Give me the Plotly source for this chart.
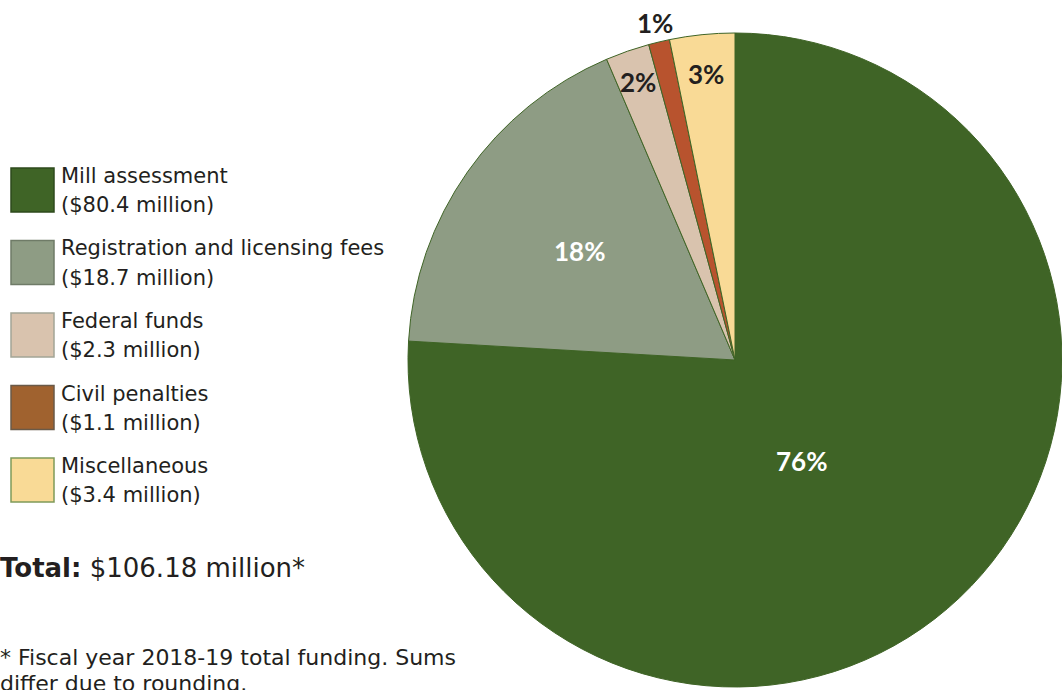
import math
import plotly.graph_objects as go

# ---- data ----
categories = ["Mill assessment", "Registration and licensing fees", "Federal funds",
              "Civil penalties", "Miscellaneous"]
amounts = [80.4, 18.7, 2.3, 1.1, 3.4]  # $ millions
amount_labels = ["($80.4 million)", "($18.7 million)", "($2.3 million)",
                 "($1.1 million)", "($3.4 million)"]
pie_labels = ["76%", "18%", "2%", "1%", "3%"]
total_label = "Total:"
total_value = "$106.18 million*"
footnote_lines = ["* Fiscal year 2018-19 total funding. Sums", "differ due to rounding."]

# ---- style ----
slice_colors = ["#3F6426", "#8E9C84", "#D9C3AE", "#B8532E", "#F9DA96"]
legend_colors = ["#3F6426", "#8E9C84", "#D9C3AE", "#A0622F", "#F9DA96"]
legend_borders = ["#2E4A1C", "#6F7B67", "#A3A596", "#6A5A48", "#7F9A5A"]
label_colors = ["white", "white", "#231F20", "#231F20", "#231F20"]
label_radius = [0.37, 0.58, 0.90, 1.06, 0.88]
label_shift = [10, 0, 0, 0, 0]
FONT = "DejaVu Sans"
LFONT = "Lato"
TXT = "#231F20"

W, H = 1062, 690
dom_x = [408 / W, 1.0]
dom_y = [0.0, 1 - 30 / H]
pw = (dom_x[1] - dom_x[0]) * W
ph = (dom_y[1] - dom_y[0]) * H
R = min(pw, ph) / 2
cx = (dom_x[0] + dom_x[1]) / 2 * W
cy = (1 - (dom_y[0] + dom_y[1]) / 2) * H

fig = go.Figure()
fig.add_trace(go.Pie(
    labels=categories, values=amounts, sort=False, direction="clockwise",
    rotation=0, textinfo="none", hoverinfo="label+value+percent",
    marker=dict(colors=slice_colors, line=dict(color="#3F6426", width=1)),
    domain=dict(x=dom_x, y=dom_y), showlegend=False,
))

annotations = []
total = sum(amounts)
cum = 0.0
for i, v in enumerate(amounts):
    mid = (cum + v / 2) / total * 360 + label_shift[i]
    cum += v
    th = math.radians(mid)
    px = cx + label_radius[i] * R * math.sin(th)
    py = cy - label_radius[i] * R * math.cos(th)
    annotations.append(dict(
        x=px / W, y=1 - py / H, xref="paper", yref="paper", showarrow=False,
        text="<b>%s</b>" % pie_labels[i], xanchor="center", yanchor="middle",
        font=dict(family=LFONT, size=26, color=label_colors[i])))


def text_at(txt, x_px, y_px, size, anchor="middle"):
    return dict(x=x_px / W, y=1 - y_px / H, xref="paper", yref="paper",
                showarrow=False, xanchor="left", yanchor=anchor, align="left",
                text=txt, font=dict(family=FONT, size=size, color=TXT))


shapes = []
sw_top0, sw_step, sw_size = 168, 72.5, 44
for i, cat in enumerate(categories):
    top = sw_top0 + i * sw_step
    c = top + sw_size / 2
    shapes.append(dict(type="rect", xref="paper", yref="paper",
                       x0=11 / W, x1=(11 + sw_size - 1) / W,
                       y0=1 - top / H, y1=1 - (top + sw_size) / H,
                       fillcolor=legend_colors[i],
                       line=dict(color=legend_borders[i], width=1.5)))
    annotations.append(text_at(cat, 59, c - 14, 21))
    annotations.append(text_at(amount_labels[i], 59, c + 15, 21))

annotations.append(text_at("<b>%s</b> %s" % (total_label, total_value), -2, 568, 26))
annotations.append(text_at(footnote_lines[0], -2, 657, 22))
annotations.append(text_at(footnote_lines[1], -2, 683, 22))

fig.update_layout(width=W, height=H, margin=dict(l=0, r=0, t=0, b=0),
                  paper_bgcolor="white", plot_bgcolor="white",
                  annotations=annotations, shapes=shapes)
fig.write_html("out.html")
